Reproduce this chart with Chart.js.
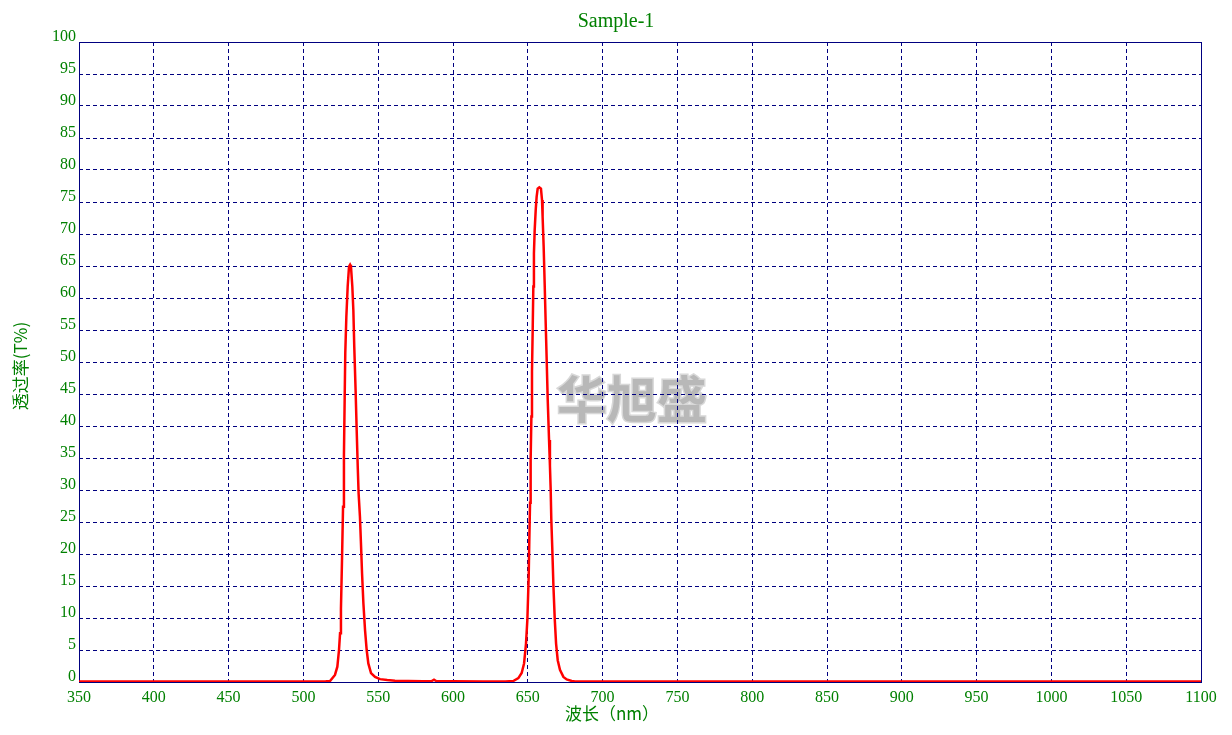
<!DOCTYPE html>
<html>
<head>
<meta charset="utf-8">
<script src="https://cdn.jsdelivr.net/npm/chart.js@4"></script>
<style>
  html, body { margin: 0; padding: 0; background: #fff; }
  #wrap { width: 1232px; height: 735px; }
</style>
</head>
<body>
<div id="wrap"><canvas id="spec" width="1232" height="735"></canvas></div>
<script>
'use strict';

// ── data ────────────────────────────────────────────────────
const chartTitle = 'Sample-1';
const xTitle = '波长（nm）';
const yTitle = '透过率(T%)';
const watermark = '华旭盛';

const wavelengths = [
  350, 400, 450, 500, 510, 515, 517.8, 521.1, 522.7, 523.8, 524.5, 525.1,
  525.8, 526.5, 527.1, 527.6, 528.0, 528.7, 529.6, 530.5, 531.2, 531.8,
  532.7, 533.4, 534.0, 534.9, 535.6, 536.3, 536.9, 537.8, 538.5, 539.2,
  540.1, 541.2, 542.3, 543.4, 545.2, 547.9, 551.2, 556, 561.2, 570, 580,
  585.5, 587.3, 589, 600, 620, 635, 640.3, 643.7, 645.9, 647.5, 648.8,
  649.7, 650.6, 651.0, 651.5, 651.9, 652.4, 652.8, 653.3, 653.7, 654.1,
  654.6, 655.3, 655.9, 656.6, 657.7, 658.8, 659.5, 659.9, 660.6, 661.3,
  661.9, 662.6, 663.3, 664.2, 664.8, 665.3, 665.7, 666.4, 667.1, 668.0,
  668.9, 670.0, 671.5, 673.8, 676.0, 679.3, 681.6, 700, 800, 900, 1000, 1100
];
const transmission = [
  0.08, 0.08, 0.08, 0.08, 0.08, 0.1, 0.15, 1.1, 2.4, 5.0, 7.6, 11.5,
  19.0, 27.4, 35.5, 44.5, 51.5, 57.0, 61.8, 64.9, 65.2, 64.9,
  61.8, 58.0, 52.4, 45.5, 39.5, 33.8, 29.5, 25.8, 21.5, 17.0,
  12.3, 8.1, 5.0, 2.9, 1.4, 0.8, 0.45, 0.3, 0.2, 0.15, 0.12,
  0.12, 0.35, 0.12, 0.1, 0.08, 0.08, 0.16, 0.6, 1.4, 2.9, 6.0,
  9.7, 16.5, 22.0, 28.0, 34.7, 41.5, 48.5, 55.5, 61.8, 67.0,
  70.6, 73.8, 75.8, 77.1, 77.3, 77.1, 75.3, 72.7, 68.0, 62.0,
  56.6, 50.5, 44.2, 37.8, 33.8, 30.0, 25.5, 20.6, 15.2, 9.9,
  6.0, 3.4, 1.9, 0.8, 0.4, 0.16, 0.08, 0.08, 0.08, 0.08, 0.08, 0.08
];

const xMin = 350, xMax = 1100, xStep = 50;
const yMin = 0, yMax = 100, yStep = 5;

const GREEN = '#008000';
const NAVY = '#000080';
const SERIF = "'Liberation Serif','Times New Roman',serif";
const CJK = "'Noto Sans CJK SC','Liberation Serif',sans-serif";

// ── plugins: watermark, frame, titles ───────────────────────
const decor = {
  id: 'decor',
  beforeDraw(chart) {
    const { ctx } = chart;
    ctx.save();
    ctx.fillStyle = '#fff';
    ctx.fillRect(0, 0, chart.width, chart.height);
    ctx.font = `bold 50px ${CJK}`;
    ctx.textAlign = 'center';
    ctx.textBaseline = 'middle';
    ctx.lineWidth = 3;
    ctx.strokeStyle = '#d8d8d8';
    ctx.strokeText(watermark, 632, 399);
    ctx.fillStyle = '#b8b8b8';
    ctx.fillText(watermark, 632, 399);
    ctx.restore();
  },
  beforeDatasetsDraw(chart) {
    const { ctx, chartArea: a } = chart;
    ctx.save();
    ctx.strokeStyle = NAVY;
    ctx.lineWidth = 1;
    ctx.setLineDash([]);
    ctx.strokeRect(Math.round(a.left) + 0.5, Math.round(a.top) + 0.5,
      Math.round(a.right - a.left), Math.round(a.bottom - a.top));
    ctx.restore();
  },
  afterDraw(chart) {
    const { ctx, chartArea: a } = chart;
    const cx = chart.width / 2;
    ctx.save();
    ctx.fillStyle = GREEN;
    ctx.textAlign = 'center';
    ctx.textBaseline = 'middle';
    ctx.font = `20px ${SERIF}`;
    ctx.fillText(chartTitle, cx, 22);
    ctx.font = `17px ${CJK}`;
    ctx.fillText(xTitle, cx - 4, 714);
    ctx.translate(21, (a.top + a.bottom) / 2 + 4);
    ctx.rotate(-Math.PI / 2);
    ctx.fillText(yTitle, 0, 0);
    ctx.restore();
  }
};

new Chart(document.getElementById('spec').getContext('2d'), {
  type: 'line',
  data: {
    datasets: [{
      data: wavelengths.map((w, i) => ({ x: w, y: transmission[i] })),
      borderColor: '#ff0000',
      borderWidth: 2.5,
      pointRadius: 0,
      tension: 0,
      fill: false,
    }]
  },
  options: {
    responsive: false,
    animation: false,
    devicePixelRatio: 1,
    layout: { padding: { left: 0, right: 31, top: 42, bottom: 0 } },
    plugins: {
      legend: { display: false },
      tooltip: { enabled: false },
    },
    scales: {
      x: {
        type: 'linear',
        min: xMin, max: xMax,
        afterFit: s => { s.height = 53; },
        afterBuildTicks: s => {
          s.ticks = [];
          for (let v = xMin; v <= xMax; v += xStep) s.ticks.push({ value: v });
        },
        grid: { color: NAVY, lineWidth: 1, drawTicks: false },
        border: { display: false, dash: [4, 3] },
        ticks: { color: GREEN, padding: 6, maxRotation: 0, autoSkip: false,
          callback: v => String(v),
          font: { family: SERIF, size: 16 } },
      },
      y: {
        type: 'linear',
        min: yMin, max: yMax,
        afterFit: s => { s.width = 79; },
        afterBuildTicks: s => {
          s.ticks = [];
          for (let v = yMin; v <= yMax; v += yStep) s.ticks.push({ value: v });
        },
        grid: { color: NAVY, lineWidth: 1, drawTicks: false },
        border: { display: false, dash: [4, 3] },
        ticks: { color: GREEN, padding: 3, labelOffset: -5, autoSkip: false,
          callback: v => String(v),
          font: { family: SERIF, size: 16 } },
      }
    }
  },
  plugins: [decor]
});
</script>
</body>
</html>
